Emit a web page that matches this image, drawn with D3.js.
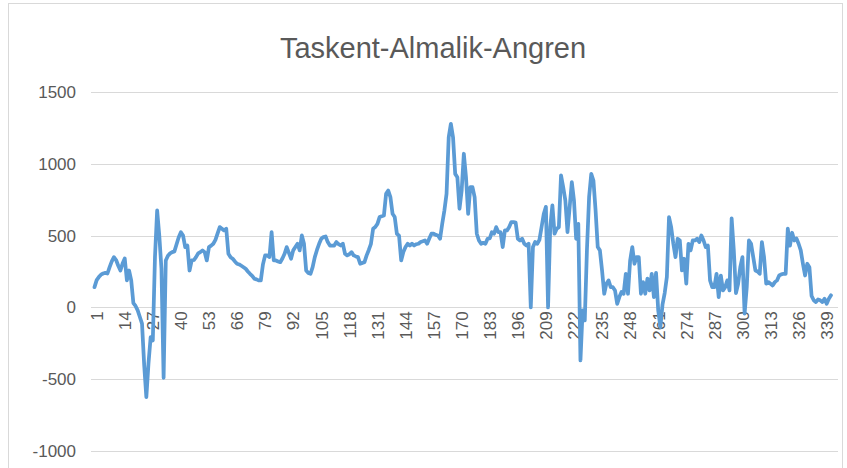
<!DOCTYPE html>
<html>
<head>
<meta charset="utf-8">
<script src="https://cdn.jsdelivr.net/npm/d3@7"></script>
<style>
  html, body { margin: 0; padding: 0; background: #ffffff; }
  svg { display: block; }
</style>
</head>
<body>
<svg id="chart" width="847" height="468"></svg>
<script>
const title = "Taskent-Almalik-Angren";
const yTicks = [-1000, -500, 0, 500, 1000, 1500];
const tickStep = 13;
const values = [
  141, 190, 211, 228, 236, 240, 236, 280, 320, 350,
  330, 290, 257, 306, 341, 188, 257, 188, 30, 10,
  -21, -67, -113, -400, -624, -390, -207, -230, 350, 675,
  500, 270, -490, 327, 360, 376, 385, 390, 440, 489,
  524, 500, 420, 431, 257, 327, 330, 350, 376, 385,
  397, 385, 327, 420, 430, 443, 470, 515, 559, 548,
  536, 548, 373, 350, 339, 320, 304, 299, 290, 280,
  269, 250, 234, 220, 200, 195, 188, 188, 300, 362,
  362, 350, 524, 327, 327, 320, 315, 340, 373, 420,
  380, 339, 397, 420, 443, 397, 501, 443, 257, 240,
  234, 280, 350, 400, 443, 478, 490, 494, 455, 431,
  431, 431, 455, 440, 431, 443, 373, 362, 370, 385,
  362, 355, 350, 304, 310, 315, 362, 400, 443, 548,
  560, 582, 629, 635, 640, 791, 814, 768, 652, 629,
  513, 500, 327, 385, 420, 443, 431, 443, 431, 440,
  443, 455, 460, 466, 443, 480, 513, 513, 505, 501,
  478, 582, 675, 791, 1185, 1278, 1185, 930, 907, 687,
  814, 1070, 907, 652, 837, 837, 768, 513, 466, 443,
  450, 443, 478, 480, 524, 513, 559, 524, 524, 420,
  536, 536, 560, 594, 594, 590, 478, 466, 478, 443,
  431, 443, 0, 420, 455, 443, 470, 560, 650, 700,
  0, 559, 710, 513, 548, 559, 919, 837, 745, 524,
  698, 872, 745, 478, 582, -369, -21, -90, 400, 768,
  930, 884, 675, 420, 397, 257, 95, 165, 188, 141,
  141, 118, 25, 72, 107, 95, 234, 95, 327, 420,
  304, 350, 350, 95, 176, 95, 200, 118, 234, 72,
  240, -20, -137, 20, 100, 211, 629, 559, 443, 350,
  478, 466, 257, 339, 165, 443, 397, 466, 466, 478,
  455, 501, 466, 420, 431, 188, 141, 141, 234, 72,
  222, 118, 141, 188, 118, 620, 397, 100, 165, 280,
  350, -44, 141, 466, 443, 350, 257, 250, 234, 455,
  350, 165, 176, 165, 153, 176, 188, 222, 230, 234,
  234, 548, 430, 520, 466, 480, 443, 397, 304, 222,
  304, 280, 80, 50, 37, 55, 49, 37, 60, 25,
  60, 84
];
const categories = values.map((v, i) => i + 1);
const tickLabels = categories.filter(c => (c - 1) % tickStep === 0);

const svg = d3.select("#chart");
const font = "'Liberation Sans', Arial, sans-serif";
const textColor = "#595959";
const gridColor = "#d9d9d9";

// outer frame
svg.append("rect")
  .attr("x", 8.5).attr("y", 3.5)
  .attr("width", 834).attr("height", 480)
  .attr("fill", "#fff").attr("stroke", "#d9d9d9").attr("stroke-width", 1);

const plotLeft = 91, plotRight = 838;
const x = d3.scalePoint().domain(categories).range([94.5, 831]);
const y = d3.scaleLinear().domain([-1000, 1500]).range([451, 92]);

// gridlines
svg.append("g")
  .selectAll("line")
  .data(yTicks)
  .join("line")
  .attr("x1", plotLeft).attr("x2", plotRight)
  .attr("y1", d => Math.round(y(d)) + 0.5)
  .attr("y2", d => Math.round(y(d)) + 0.5)
  .attr("stroke", gridColor).attr("stroke-width", 1);

// y axis labels
const yAxis = d3.axisLeft(y).tickValues(yTicks).tickSize(0).tickPadding(0)
  .tickFormat(d => String(d));
const gy = svg.append("g").attr("transform", "translate(76,0)").call(yAxis);
gy.select(".domain").remove();
gy.selectAll("text")
  .attr("font-family", font).attr("font-size", 17)
  .attr("fill", textColor);

// x axis labels at y=0
const xAxis = d3.axisBottom(x).tickValues(tickLabels).tickSize(0).tickPadding(0)
  .tickFormat(d => String(d));
const gx = svg.append("g").attr("transform", `translate(0,${y(0)})`).call(xAxis);
gx.select(".domain").remove();
gx.selectAll("text")
  .attr("font-family", font).attr("font-size", 17)
  .attr("fill", textColor)
  .attr("text-anchor", "end")
  .attr("transform", "translate(2,4) rotate(-90)")
  .attr("x", 0).attr("y", 0).attr("dy", "0.35em");

// line
const line = d3.line()
  .x((d, i) => x(categories[i]))
  .y(d => y(d));
svg.append("path")
  .datum(values)
  .attr("d", line)
  .attr("fill", "none")
  .attr("stroke", "#5B9BD5")
  .attr("stroke-width", 3.75)
  .attr("stroke-linejoin", "round")
  .attr("stroke-linecap", "round");

// title
svg.append("text")
  .attr("x", 433).attr("y", 58)
  .attr("text-anchor", "middle")
  .attr("font-family", font).attr("font-size", 29)
  .attr("fill", textColor)
  .text(title);
</script>
</body>
</html>
